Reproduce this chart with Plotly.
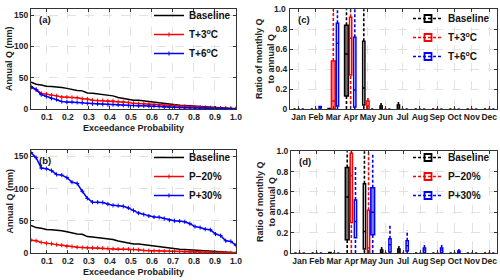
import plotly.graph_objects as go

# ---------------- data ----------------
N_YEARS = 41
EXC_PROB = [i / N_YEARS for i in range(1, N_YEARS + 1)]

Q_BASELINE = [43, 39.5, 38.5, 36.5, 36, 35.5, 34.5, 33, 31, 29.5, 29, 25.5, 25, 24, 22, 21.5, 21,
              18.5, 17, 14.5, 14, 14, 13, 11.5, 10.5, 9.5, 8, 7.5, 6.5, 6, 5.5, 5, 4.5, 4.5, 4, 3.5,
              2.5, 1.5, 1, 0.8, 0.5]
Q_T3 = [34, 31, 25, 24, 22, 21, 19, 19, 18.5, 18, 16.5, 16, 14, 13.5, 13.5, 13, 13, 12, 11.5, 10.5,
        9, 8.5, 8.5, 8, 7.5, 7, 5.5, 5, 4.5, 4, 3.8, 3.5, 3, 2.8, 2.5, 2, 1.5, 1.2, 1, 0.7, 0.5]
Q_T6 = [36, 31, 23, 20, 17, 15, 12, 11, 11, 10.5, 10, 9, 8.5, 8, 7.5, 7, 7, 6.5, 6, 5.5, 5.5, 5, 5,
        4.5, 4.5, 4, 3, 2.8, 2.5, 2.2, 2, 1.8, 1.5, 1.2, 1, 0.9, 0.8, 0.6, 0.5, 0.4, 0.3]
Q_P20 = [20, 19, 16.5, 15, 14.5, 13, 12, 10.5, 10, 9, 8.5, 8, 8, 8, 7.5, 7, 6.5, 6, 6, 6, 5.5, 5,
         4, 3.8, 3.5, 3, 2.8, 2.6, 2.5, 2, 1.5, 1.3, 1.2, 1, 1, 0.8, 0.5, 0.4, 0.3, 0.2, 0.2]
Q_P30 = [156, 148, 132, 131, 128, 122, 121, 117, 110, 108, 96, 85, 79, 79, 78.5, 76, 74, 73.5, 72.5,
         70, 66, 62, 60, 57.5, 56, 55.5, 53.5, 51, 50, 49.5, 48.5, 45.5, 41, 39.5, 37, 36, 29.5, 27,
         19, 18, 12]

MONTHS = ["Jan", "Feb", "Mar", "Apr", "May", "Jun", "Jul", "Aug", "Sep", "Oct", "Nov", "Dec"]

BOX_BASELINE = dict(
    lo=[0, 0, 0, 0, 0, 0, 0, 0, 0, 0, 0, 0],
    q1=[0, 0, 0, 0.13, 0.04, 0, 0, 0, 0, 0, 0, 0],
    med=[0, 0, 0.002, 0.55, 0.21, 0.01, 0.02, 0, 0, 0, 0, 0],
    q3=[0, 0, 0.005, 0.84, 0.68, 0.03, 0.04, 0, 0, 0, 0, 0],
    hi=[0, 0, 0.01, 1.0, 1.0, 0.06, 0.07, 0, 0, 0, 0, 0])
BOX_T3 = dict(
    lo=[0, 0, 0, 0, 0, 0, 0, 0, 0, 0, 0, 0],
    q1=[0, 0, 0, 0.34, 0, 0, 0, 0, 0, 0, 0, 0],
    med=[0, 0, 0.08, 0.71, 0.03, 0, 0, 0, 0, 0, 0, 0],
    q3=[0, 0, 0.48, 0.92, 0.08, 0, 0, 0, 0, 0, 0, 0],
    hi=[0, 0, 1.0, 1.0, 0.13, 0, 0, 0, 0, 0, 0, 0])
BOX_T6 = dict(
    lo=[0, 0, 0, 0, 0, 0, 0, 0, 0, 0, 0, 0],
    q1=[0, 0.01, 0.03, 0.02, 0, 0, 0, 0, 0, 0, 0, 0],
    med=[0, 0.015, 0.66, 0.19, 0, 0, 0, 0, 0, 0, 0, 0],
    q3=[0, 0.025, 0.86, 0.72, 0, 0, 0, 0, 0, 0, 0, 0],
    hi=[0, 0.03, 1.0, 1.0, 0, 0, 0, 0, 0, 0, 0, 0])
BOX_P20 = dict(
    lo=[0, 0, 0, 0, 0, 0, 0, 0, 0, 0, 0, 0],
    q1=[0, 0, 0, 0.30, 0, 0, 0, 0, 0, 0, 0, 0],
    med=[0, 0, 0, 0.76, 0.05, 0, 0, 0, 0, 0, 0, 0],
    q3=[0, 0, 0, 0.98, 0.42, 0, 0, 0, 0, 0, 0, 0],
    hi=[0, 0, 0, 1.0, 1.0, 0, 0, 0, 0, 0, 0, 0])
BOX_P30 = dict(
    lo=[0, 0, 0, 0, 0, 0, 0, 0, 0, 0, 0, 0],
    q1=[0, 0, 0, 0.15, 0.18, 0.01, 0.02, 0.005, 0.005, 0, 0, 0],
    med=[0, 0, 0, 0.31, 0.40, 0.08, 0.07, 0.03, 0.03, 0.01, 0, 0],
    q3=[0, 0, 0, 0.52, 0.64, 0.14, 0.12, 0.05, 0.05, 0.02, 0, 0],
    hi=[0, 0, 0, 0.85, 0.98, 0.28, 0.22, 0.10, 0.09, 0.04, 0, 0])

# boxes drawn wide & filled (others narrow, white)
FILLED_C = {("Baseline", "Apr"), ("T+3", "Mar")}
FILLED_D = {("Baseline", "Apr"), ("P+30", "May")}

# ---------------- styling ----------------
FONT = "Liberation Sans, Arial, sans-serif"
BLACK, RED, BLUE = "#000000", "#ff0000", "#0000ff"
FILLS = {BLACK: "#707070", RED: "rgba(255,90,90,0.75)", BLUE: "rgba(70,70,255,0.7)"}
AX = "#333333"
GRID = "#e2e2e2"

fig = go.Figure()

# ---- exceedance curves ----
def add_curve(y, name, color, xa, ya, legend, marker):
    fig.add_trace(go.Scatter(
        x=EXC_PROB, y=y, name=name, mode="lines+markers" if marker else "lines",
        line=dict(color=color, width=1.5),
        marker=dict(symbol="cross-thin", size=3, line=dict(color=color, width=1)),
        xaxis=xa, yaxis=ya, legend=legend))

add_curve(Q_BASELINE, "Baseline", BLACK, "x", "y", "legend", False)
add_curve(Q_T3, "T+3<sup>o</sup>C", RED, "x", "y", "legend", True)
add_curve(Q_T6, "T+6<sup>o</sup>C", BLUE, "x", "y", "legend", True)
add_curve(Q_BASELINE, "Baseline", BLACK, "x2", "y2", "legend2", False)
add_curve(Q_P20, "P\u221220%", RED, "x2", "y2", "legend2", True)
add_curve(Q_P30, "P+30%", BLUE, "x2", "y2", "legend2", True)

# ---- box plots ----
OFFSETS = [-0.24, 0.0, 0.24]

def add_boxes(series, xa, ya, legend, filled):
    for si, (key, label, color, st) in enumerate(series):
        # legend-only entry: dashed whisker with an open box
        fig.add_trace(go.Scatter(x=[None], y=[None], mode="lines+markers", name=label,
                                 line=dict(color=color, width=1.5, dash="3px,2px"),
                                 marker=dict(symbol="square-open", size=7,
                                             line=dict(color=color, width=1.8)),
                                 legend=legend, xaxis=xa, yaxis=ya))
        wx, wy = [], []
        for mi, m in enumerate(MONTHS):
            pos = mi + 1 + OFFSETS[si]
            big = (key, m) in filled
            fig.add_trace(go.Box(
                x=[pos], q1=[st["q1"][mi]], median=[st["med"][mi]], q3=[st["q3"][mi]],
                lowerfence=[st["q1"][mi]], upperfence=[st["q3"][mi]],
                width=0.22 if big else 0.13,
                fillcolor=FILLS[color] if big else "white",
                line=dict(color=color, width=1.5), whiskerwidth=0,
                boxpoints=False, name=label, showlegend=False,
                xaxis=xa, yaxis=ya, hoverinfo="skip"))
            if st["q1"][mi] > st["lo"][mi]:
                wx += [pos, pos, None]; wy += [st["lo"][mi], st["q1"][mi], None]
            if st["hi"][mi] > st["q3"][mi]:
                wx += [pos, pos, None]; wy += [st["q3"][mi], st["hi"][mi], None]
        fig.add_trace(go.Scatter(x=wx, y=wy, mode="lines", showlegend=False,
                                 line=dict(color=color, width=1.6, dash="3px,2px"),
                                 xaxis=xa, yaxis=ya, hoverinfo="skip"))

add_boxes([("Baseline", "Baseline", BLACK, BOX_BASELINE),
           ("T+3", "T+3<sup>o</sup>C", RED, BOX_T3),
           ("T+6", "T+6<sup>o</sup>C", BLUE, BOX_T6)], "x3", "y3", "legend3", FILLED_C)
add_boxes([("Baseline", "Baseline", BLACK, BOX_BASELINE),
           ("P-20", "P\u221220%", RED, BOX_P20),
           ("P+30", "P+30%", BLUE, BOX_P30)], "x4", "y4", "legend4", FILLED_D)

# ---------------- layout ----------------
W, H = 500, 280
def px_x(a, b): return [a / W, b / W]
def px_y(top, bot): return [1 - bot / H, 1 - top / H]
def fx(a): return a / W
def fy(t): return 1 - t / H

tickf = dict(family=FONT, size=8.5, color="#222", weight="bold")
titf = dict(family=FONT, size=9, color="#222", weight="bold")
base_axis = dict(showline=True, linecolor=AX, linewidth=1, mirror="ticks", ticks="inside",
                 ticklen=3, tickcolor=AX, showgrid=True, gridcolor=GRID, griddash="dash",
                 gridwidth=1, zeroline=False, tickfont=tickf, title_font=titf,
                 automargin=False, tickangle=0, ticklabeloverflow="allow")

prob_ticks = [round(0.1 * k, 1) for k in range(1, 11)]
prob_text = [f"{v:.1f}" for v in prob_ticks]
ratio_ticks = [0, 0.2, 0.4, 0.6, 0.8, 1.0]
ratio_text = ["0", "0.2", "0.4", "0.6", "0.8", "1.0"]

xa_prob = dict(base_axis, range=[1 / N_YEARS, 1.0], tickmode="array", tickvals=prob_ticks,
               ticktext=prob_text, title=dict(text="Exceedance Probability", standoff=3))
ya_q = dict(base_axis, range=[0, 160], tickmode="array", tickvals=[0, 50, 100, 150])
xa_mon = dict(base_axis, range=[0.5, 12.45], tickmode="array", tickvals=list(range(1, 13)),
              ticktext=MONTHS)
ya_r = dict(base_axis, range=[0, 1.002], tickmode="array", tickvals=ratio_ticks,
            ticktext=ratio_text)

leg = dict(bgcolor="rgba(0,0,0,0)", borderwidth=0, xanchor="right", yanchor="top",
           font=dict(family=FONT, size=10, color="#111", weight="bold"),
           tracegroupgap=0, itemwidth=30)

fig.update_layout(
    width=W, height=H, margin=dict(l=0, r=0, t=0, b=0, autoexpand=False),
    paper_bgcolor="white", plot_bgcolor="white", showlegend=True,
    font=dict(family=FONT, weight="bold"),
    xaxis=dict(xa_prob, domain=px_x(31, 236), anchor="y"),
    yaxis=dict(ya_q, domain=px_y(9, 109), anchor="x"),
    xaxis2=dict(xa_prob, domain=px_x(31, 236), anchor="y2"),
    yaxis2=dict(ya_q, domain=px_y(150, 253), anchor="x2"),
    xaxis3=dict(xa_mon, domain=px_x(290, 497), anchor="y3"),
    yaxis3=dict(ya_r, domain=px_y(9, 109), anchor="x3",
                ticktext=ratio_text[:-1] + [""]),
    xaxis4=dict(xa_mon, domain=px_x(291, 497), anchor="y4"),
    yaxis4=dict(ya_r, domain=px_y(151, 253), anchor="x4"),
    legend=dict(leg, x=fx(236), y=fy(1)),
    legend2=dict(leg, x=fx(236), y=fy(143)),
    legend3=dict(leg, x=fx(495), y=fy(4)),
    legend4=dict(leg, x=fx(495), y=fy(143)),
)
# top tick label of panel (c), written as text just left of the axis
fig.add_annotation(text=ratio_text[-1], xref="paper", yref="paper", x=fx(288), y=fy(9),
                   xanchor="right", yanchor="middle", showarrow=False, font=tickf)

for lab, xr, yr in [("(a)", "x domain", "y domain"), ("(b)", "x2 domain", "y2 domain"),
                    ("(c)", "x3 domain", "y3 domain"), ("(d)", "x4 domain", "y4 domain")]:
    fig.add_annotation(text=lab, xref=xr, yref=yr, x=0.03, y=0.97, xanchor="left",
                       yanchor="top", showarrow=False,
                       font=dict(family=FONT, size=9.5, color="#111", weight="bold"))

# y-axis titles
for txt, xpix, yr in [("Annual Q (mm)", 9, "y domain"), ("Annual Q (mm)", 9, "y2 domain"),
                      ("Ratio of monthly Q<br>to annual Q", 265, "y3 domain"),
                      ("Ratio of monthly Q<br>to annual Q", 266, "y4 domain")]:
    fig.add_annotation(text=txt, xref="paper", yref=yr, x=fx(xpix), y=0.5, textangle=-90,
                       xanchor="center", yanchor="middle", showarrow=False,
                       font=titf)

fig.write_html("out.html", config={"displayModeBar": False},
               post_script="document.body.style.margin='0px';")
